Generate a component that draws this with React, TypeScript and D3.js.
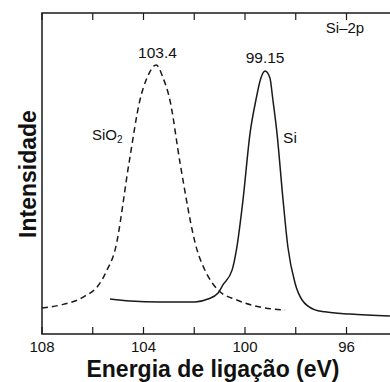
import * as d3 from "d3";

// binding energy (eV) and intensity (arb. units)
const sio2Energy = [108, 107.29, 106.38, 105.71, 105.44, 105.12, 104.57, 104.14, 103.86, 103.5, 103.23, 102.96, 102.56, 101.89, 101.58, 101.06, 100.32, 99.41, 98.42];
const sio2Intensity = [8.1, 9.0, 11.5, 15.9, 19.9, 26.2, 53.3, 72.9, 79.8, 83.8, 79.8, 72.9, 53.3, 26.2, 19.9, 13.7, 10.6, 8.4, 7.5];

const siEnergy = [105.32, 104.53, 103.35, 101.97, 101.46, 101.06, 100.87, 100.51, 100.32, 100.08, 99.8, 99.57, 99.37, 99.21, 99.02, 98.9, 98.74, 98.5, 98.31, 98.03, 97.75, 97.24, 96.85, 95.86, 94.29];
const siIntensity = [10.9, 10.3, 10.0, 10.0, 10.9, 12.8, 15.3, 19.9, 27.1, 41.7, 62.6, 72.9, 79.8, 81.9, 79.8, 72.9, 62.6, 41.7, 27.1, 15.9, 10.6, 7.5, 6.9, 6.2, 5.6];

const tickValues = [108, 106, 104, 102, 100, 98, 96, 94];
const tickLabels = ["108", "", "104", "", "100", "", "96", ""];

const peakLabels = [
  { energy: 103.45, intensity: 83.8, text: "103.4" },
  { energy: 99.21, intensity: 81.9, text: "99.15" },
];

const W = 390;
const H = 382;
const font = "'Liberation Sans', Arial, Helvetica, sans-serif";

export default function App() {
  const margin = { left: 42, top: 13, bottom: 334 };
  const x = d3.scaleLinear().domain([108, 94]).range([margin.left, margin.left + 14 * 25.375]);
  const y = d3.scaleLinear().domain([0, 100]).range([margin.bottom, margin.top]);

  const line = d3
    .line<[number, number]>()
    .x((d) => x(d[0]))
    .y((d) => y(d[1]))
    .curve(d3.curveMonotoneX);

  const sio2 = sio2Energy.map((e, i) => [e, sio2Intensity[i]] as [number, number]);
  const si = siEnergy.map((e, i) => [e, siIntensity[i]] as [number, number]);

  const x0 = x.range()[0];
  const x1 = x.range()[1];
  const stroke = "#1a1a1a";

  return (
    <svg width={W} height={H} style={{ position: "absolute", left: 0, top: 0, background: "#fff" }} fontFamily={font}>
      {/* frame */}
      <rect x={x0} y={margin.top} width={x1 - x0} height={margin.bottom - margin.top} fill="none" stroke={stroke} strokeWidth={1.5} />

      {/* ticks, bottom and top */}
      {tickValues.map((t, i) => (
        <g key={t}>
          <line x1={x(t)} x2={x(t)} y1={margin.bottom} y2={margin.bottom - 7} stroke={stroke} strokeWidth={1.2} />
          <line x1={x(t)} x2={x(t)} y1={margin.top} y2={margin.top + 7} stroke={stroke} strokeWidth={1.2} />
          {tickLabels[i] && (
            <text x={x(t)} y={352} textAnchor="middle" fontSize={15} fill="#111">
              {tickLabels[i]}
            </text>
          )}
        </g>
      ))}

      {/* curves */}
      <path d={line(sio2) || ""} fill="none" stroke={stroke} strokeWidth={1.5} strokeDasharray="6,4" />
      <path d={line(si) || ""} fill="none" stroke={stroke} strokeWidth={1.5} />

      {/* peak labels */}
      {peakLabels.map((p, i) => (
        <text key={p.text} x={x(p.energy)} y={y(p.intensity) - (i === 0 ? 7 : 8)} textAnchor="middle" fontSize={15.5} fill="#111">
          {p.text}
        </text>
      ))}

      <text x={x(106.03)} y={y(60.4)} fontSize={15} fill="#111">
        SiO<tspan fontSize={10} dy={3}>2</tspan>
      </text>
      <text x={x(98.5)} y={y(59.5)} fontSize={15.5} fill="#111">
        Si
      </text>
      <text x={345} y={33} textAnchor="middle" fontSize={15} fill="#111">
        Si–2p
      </text>

      {/* axis titles */}
      <text x={213} y={377} textAnchor="middle" fontSize={23} fontWeight="bold" fill="#111">
        Energia de ligação (eV)
      </text>
      <text transform="translate(36,174) rotate(-90)" textAnchor="middle" fontSize={23} fontWeight="bold" fill="#111">
        Intensidade
      </text>
    </svg>
  );
}
